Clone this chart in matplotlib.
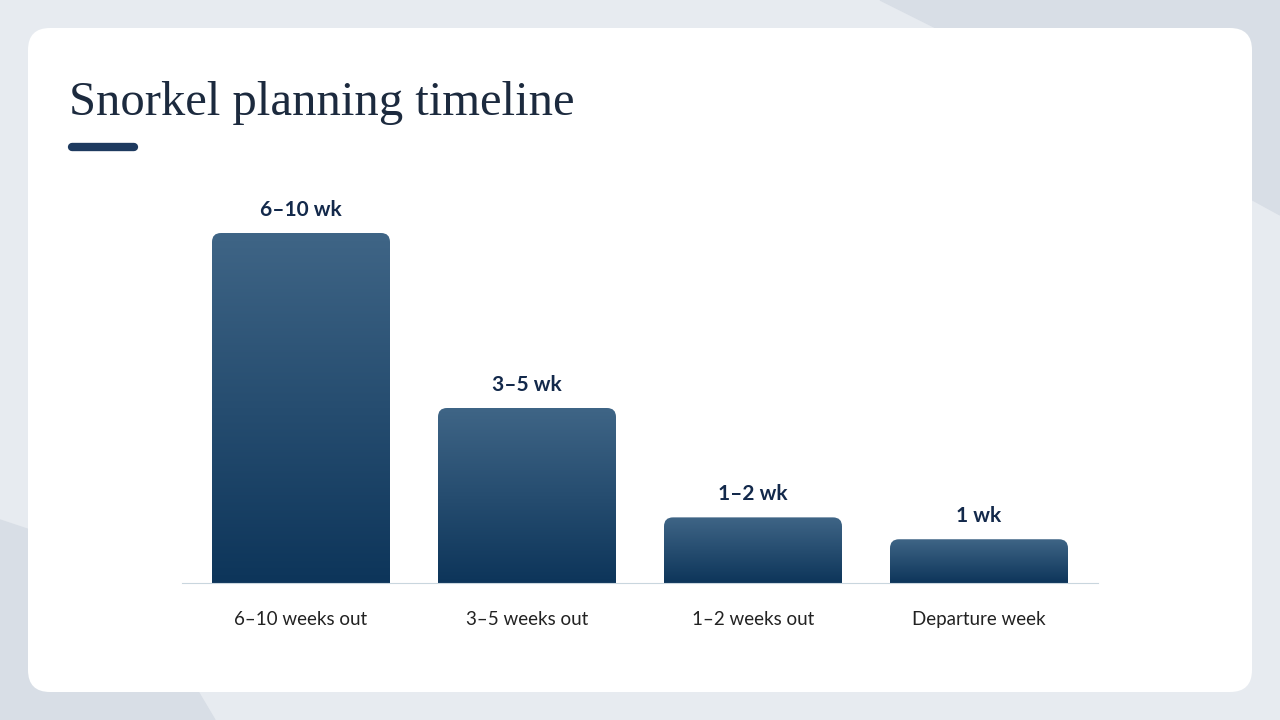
import numpy as np
import matplotlib.pyplot as plt
from matplotlib.patches import FancyBboxPatch, Polygon
from matplotlib.colors import LinearSegmentedColormap

categories = ["6–10 weeks out", "3–5 weeks out", "1–2 weeks out", "Departure week"]
values = [8, 4, 1.5, 1]
value_labels = ["6–10 wk", "3–5 wk", "1–2 wk", "1 wk"]

W, H = 1280, 720
fig = plt.figure(figsize=(12.8, 7.2), dpi=100)
fig.patch.set_facecolor("#e7ebf0")

# decorative background + card, in pixel coords
bg = fig.add_axes([0, 0, 1, 1])
bg.set_xlim(0, W); bg.set_ylim(H, 0); bg.axis("off")
bg.add_patch(Polygon([[880, 0], [1280, 0], [1280, 215], [960, 40]], color="#d8dee6", zorder=0))
bg.add_patch(Polygon([[0, 520], [120, 560], [215, 720], [0, 720]], color="#d8dee6", zorder=0))
bg.add_patch(FancyBboxPatch((28, 28), 1224, 664, boxstyle="round,pad=0,rounding_size=22",
                            fc="white", ec="none", zorder=1))
bg.text(69, 115, "Snorkel planning timeline", fontsize=35, color="#1c2a3e",
        family=["Liberation Serif"], va="baseline", zorder=2)
bg.plot([72, 134], [147, 147], color="#1e3a5f", lw=6, solid_capstyle="round", zorder=2)

# chart axes
step, left_px, base_px, unit_px = 226, 301, 583, 43.75
x0 = (182 - left_px) / step
x1 = (1098 - left_px) / step
ax = fig.add_axes([182 / W, (H - base_px) / H, (1098 - 182) / W, 8 * unit_px / H])
ax.set_xlim(x0, x1); ax.set_ylim(0, 8)
ax.patch.set_alpha(0)
for s in ["top", "right", "left"]:
    ax.spines[s].set_visible(False)
ax.spines["bottom"].set_color("#c9d6de")
ax.set_yticks([])
ax.set_xticks(range(len(categories)), categories)
ax.tick_params(axis="x", length=0, pad=20, labelsize=13.5, labelcolor="#222222")
for t in ax.get_xticklabels():
    t.set_family("Lato")

bw = 178 / step
r = 9 / step
aspect = step / unit_px
grad = np.linspace(0, 1, 256).reshape(-1, 1)
cmap = LinearSegmentedColormap.from_list("g", ["#0d355a", "#3f6586"])
for i, v in enumerate(values):
    patch = FancyBboxPatch((i - bw / 2, -0.5), bw, v + 0.5,
                           boxstyle=f"round,pad=0,rounding_size={r}",
                           mutation_aspect=aspect, fc="none", ec="none")
    ax.add_patch(patch)
    im = ax.imshow(grad, extent=(i - bw / 2, i + bw / 2, 0, v), origin="lower",
                   cmap=cmap, aspect="auto", zorder=2)
    im.set_clip_path(patch)
    ax.text(i, v + 0.3, value_labels[i], ha="center", va="bottom", fontsize=15,
            fontweight="bold", color="#13294b", family="Lato", clip_on=False)
ax.set_xlim(x0, x1); ax.set_ylim(0, 8)

fig.savefig("out.png", dpi=100)
